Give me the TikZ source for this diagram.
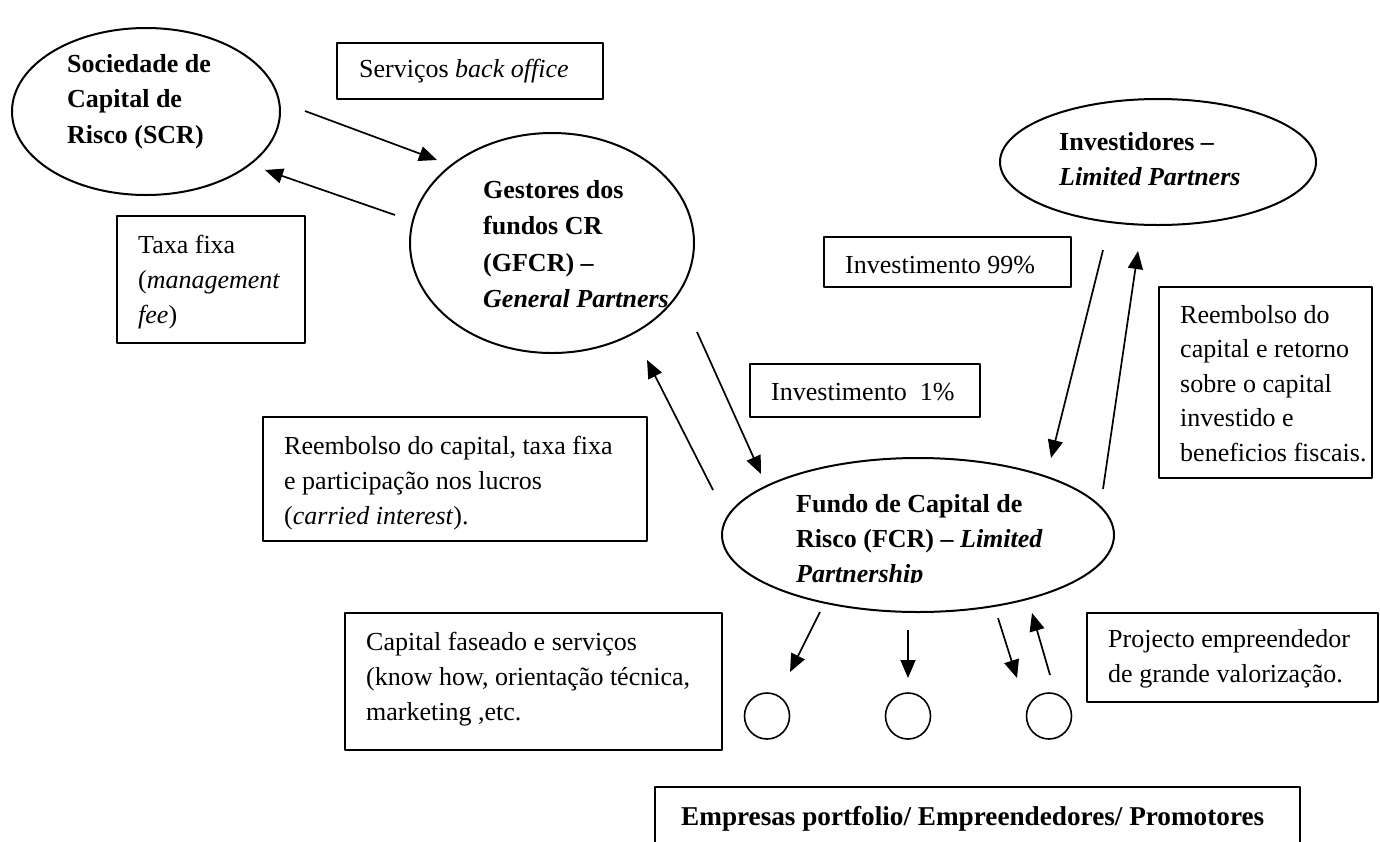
\documentclass[tikz,border=0pt]{standalone}
\usepackage{fontspec}
\setmainfont{Liberation Serif}
\usetikzlibrary{arrows.meta,shapes.geometric}
\newcommand{\mylines}[1]{\begin{tabular}[t]{@{}l@{}}#1\end{tabular}}
\begin{document}
\begin{tikzpicture}[x=1pt,y=-1pt,line join=round,
  oval/.style={ellipse,draw,line width=2pt,inner sep=0pt},
  smallcirc/.style={ellipse,draw,line width=1.6pt,inner sep=0pt,minimum width=45,minimum height=46},
  box/.style={rectangle,draw,line width=2pt,inner sep=0pt},
  txt/.style={anchor=base west,inner sep=0pt,font=\fontsize{26}{35}\selectfont},
  btxt/.style={anchor=base west,inner sep=0pt,font=\fontsize{26}{36}\selectfont\bfseries},
  flow/.style={line width=1.7pt,-{Triangle[length=18pt,width=15pt]}}]
\useasboundingbox (0,0) rectangle (1380,841);
\fill[white] (0,0) rectangle (1380,841);

% ellipses
\node[oval,minimum width=268,minimum height=167] (scr) at (146,111.5) {};
\node[oval,minimum width=284,minimum height=220] (gfcr) at (552,243) {};
\node[oval,minimum width=316,minimum height=126] (inv) at (1158,162) {};
\node[oval,minimum width=392,minimum height=154] (fcr) at (918,535) {};
\node[smallcirc] (c1) at (767,716) {};
\node[smallcirc] (c2) at (908,716) {};
\node[smallcirc] (c3) at (1049,716) {};

% boxes
\node[box,minimum width=266,minimum height=56] (bserv) at (470,71) {};
\node[box,minimum width=188,minimum height=127] (btaxa) at (211,279.5) {};
\node[box,minimum width=247,minimum height=50] (binv99) at (947.5,262) {};
\node[box,minimum width=213,minimum height=191] (breemb) at (1265.5,382.5) {};
\node[box,minimum width=230,minimum height=53] (binv1) at (865,390.5) {};
\node[box,minimum width=384,minimum height=124] (brc) at (455,479) {};
\node[box,minimum width=377,minimum height=137] (bcap) at (533.5,681.5) {};
\node[box,minimum width=291,minimum height=89] (bproj) at (1232.5,657.5) {};
\node[box,minimum width=645,minimum height=83] (bemp) at (977.5,828.5) {};

% texts
\node[btxt,font=\fontsize{26}{35.5}\selectfont\bfseries] (tscr) at (67,72) {\mylines{Sociedade de\\ Capital de\\ Risco (SCR)}};
\node[txt] (tserv) at (359,77) {Serviços \textit{back office}};
\node[txt] (ttaxa) at (138,253) {\mylines{Taxa fixa\\ (\textit{management}\\ \textit{fee})}};
\node[btxt,font=\fontsize{26}{36.5}\selectfont\bfseries] (tgfcr) at (483,198) {\mylines{Gestores dos\\ fundos CR\\ (GFCR) –\\ \textit{General Partners}}};
\node[btxt,font=\fontsize{26}{35}\selectfont\bfseries] (tinv) at (1059,150) {\mylines{Investidores –\\ \textit{Limited Partners}}};
\node[txt] (tinv99) at (845,273) {Investimento 99\%};
\node[txt,font=\fontsize{26}{34.5}\selectfont] (treemb) at (1180,323) {\mylines{Reembolso do\\ capital e retorno\\ sobre o capital\\ investido e\\ beneficios fiscais.}};
\node[txt] (tinv1) at (771,400) {Investimento\ \ 1\%};
\node[txt] (trc) at (284,454) {\mylines{Reembolso do capital, taxa fixa\\ e participação nos lucros\\ (\textit{carried interest}).}};
\begin{scope}
\clip (700,440) rectangle (1130,582.5);
\node[btxt,font=\fontsize{26}{35}\selectfont\bfseries] (tfcr) at (796,512) {\mylines{Fundo de Capital de\\ Risco (FCR) – \textit{Limited}\\ \textit{Partnership}}};
\end{scope}
\node[txt] (tcap) at (366,650) {\mylines{Capital faseado e serviços\\ (know how, orientação técnica,\\ marketing ,etc.}};
\node[txt] (tproj) at (1108,647) {\mylines{Projecto empreendedor\\ de grande valorização.}};
\node[btxt,font=\fontsize{27.2}{36}\selectfont\bfseries] (temp) at (681,825) {Empresas portfolio/ Empreendedores/ Promotores};

% arrow end points
\coordinate (a1s) at (305,111);  \coordinate (a1e) at (437,160);
\coordinate (a2s) at (395,215);  \coordinate (a2e) at (265,170);
\coordinate (a3s) at (1103,250); \coordinate (a3e) at (1051,458);
\coordinate (a4s) at (1103,489); \coordinate (a4e) at (1138,251);
\coordinate (a5s) at (697,332);  \coordinate (a5e) at (761,474);
\coordinate (a6s) at (713,490);  \coordinate (a6e) at (647,360);
\coordinate (a7s) at (820,612);  \coordinate (a7e) at (790,672);
\coordinate (a8s) at (908,630);  \coordinate (a8e) at (908,678);
\coordinate (a9s) at (998,618);  \coordinate (a9e) at (1017,678);
\coordinate (a10s) at (1050,675); \coordinate (a10e) at (1032,613);

\draw[flow] (a1s) -- (a1e);
\draw[flow] (a2s) -- (a2e);
\draw[flow] (a3s) -- (a3e);
\draw[flow] (a4s) -- (a4e);
\draw[flow] (a5s) -- (a5e);
\draw[flow] (a6s) -- (a6e);
\draw[flow] (a7s) -- (a7e);
\draw[flow] (a8s) -- (a8e);
\draw[flow] (a9s) -- (a9e);
\draw[flow] (a10s) -- (a10e);
\end{tikzpicture}
\end{document}
